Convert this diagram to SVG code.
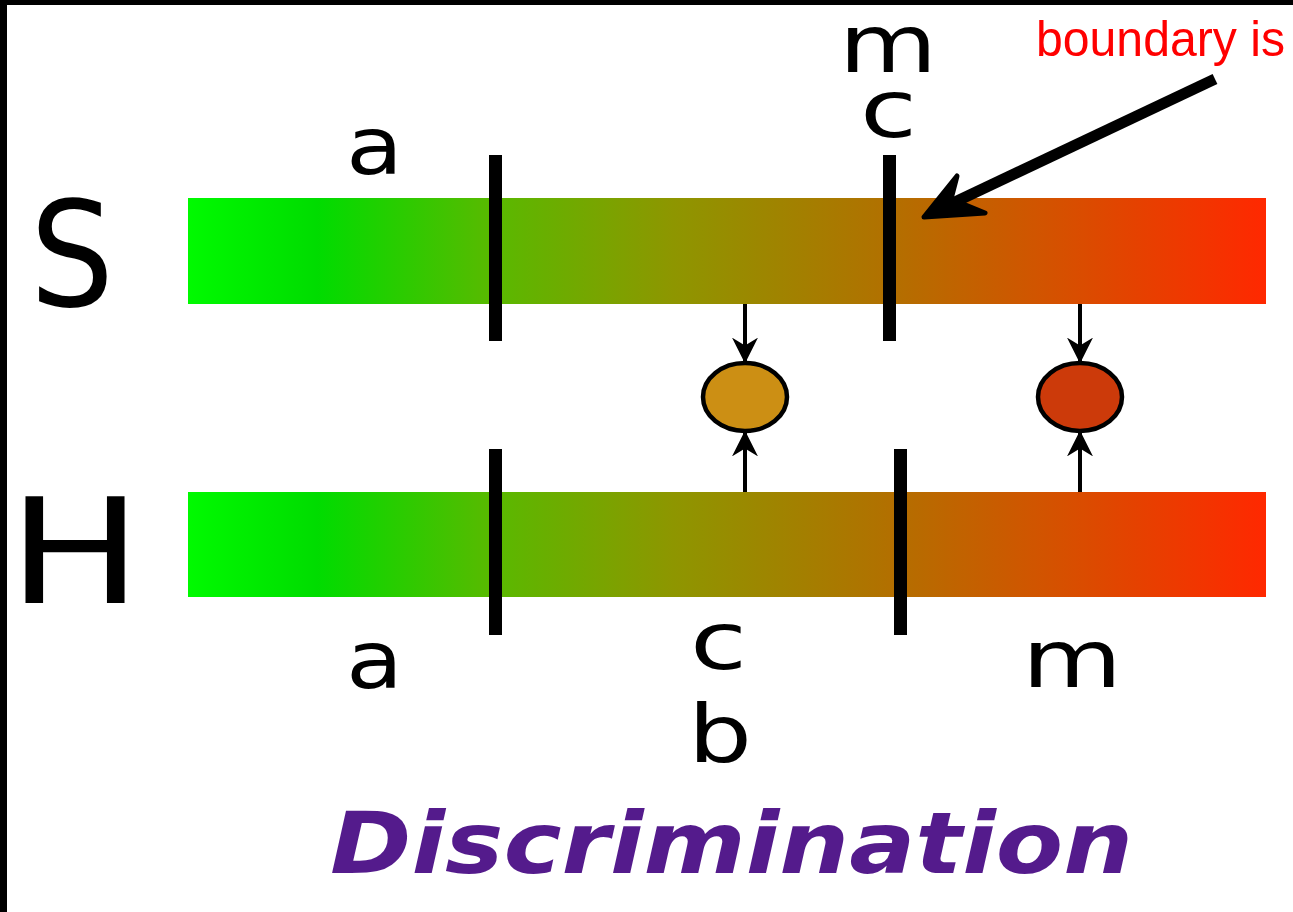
<svg xmlns="http://www.w3.org/2000/svg" width="1293" height="912" viewBox="0 0 1293 912">
  <defs>
    <linearGradient id="bar" x1="0" y1="0" x2="1" y2="0">
      <stop offset="0" stop-color="#00fa00"/>
      <stop offset="0.12" stop-color="#00dc00"/>
      <stop offset="0.28" stop-color="#58ba00"/>
      <stop offset="0.45" stop-color="#8e9600"/>
      <stop offset="0.64" stop-color="#b07200"/>
      <stop offset="0.82" stop-color="#d84e00"/>
      <stop offset="1" stop-color="#ff2800"/>
    </linearGradient>
    <marker id="ah" viewBox="0 0 10 10" refX="9" refY="5" markerWidth="6.5" markerHeight="6.5" orient="auto" markerUnits="strokeWidth">
      <path d="M0,0 L10,5 L0,10 L3,5 Z" fill="#000"/>
    </marker>
  </defs>
  <style>
    .lbl { font-family: "DejaVu Sans", sans-serif; fill: #000; font-size: 80px; }
    .tick { fill: #000; }
    .conn { stroke: #000; stroke-width: 4; fill: none; marker-end: url(#ah); }
    .node { stroke: #000; stroke-width: 4.5; }
  </style>
  <rect x="0" y="0" width="1293" height="912" fill="#fff"/>
  <rect x="0" y="0" width="1293" height="5" fill="#000"/>
  <rect x="0" y="0" width="7" height="912" fill="#000"/>

  <g id="S-row">
    <text class="lbl" x="30" y="306" style="font-size:146px" textLength="84" lengthAdjust="spacingAndGlyphs">S</text>
    <rect x="188" y="198" width="1078" height="106" fill="url(#bar)"/>
    <rect class="tick" x="489" y="155" width="13" height="186"/>
    <rect class="tick" x="883" y="155" width="13" height="186"/>
    <text class="lbl" x="346" y="174" textLength="57" lengthAdjust="spacingAndGlyphs">a</text>
    <text class="lbl" x="839" y="72" textLength="98" lengthAdjust="spacingAndGlyphs">m</text>
    <text class="lbl" x="860" y="137" textLength="57" lengthAdjust="spacingAndGlyphs">c</text>
  </g>

  <g id="H-row">
    <text class="lbl" x="8" y="603" style="font-size:146px" textLength="134" lengthAdjust="spacingAndGlyphs">H</text>
    <rect x="188" y="492" width="1078" height="105" fill="url(#bar)"/>
    <rect class="tick" x="489" y="449" width="13" height="186"/>
    <rect class="tick" x="894" y="449" width="13" height="186"/>
    <text class="lbl" x="346" y="688" textLength="57" lengthAdjust="spacingAndGlyphs">a</text>
    <text class="lbl" x="690" y="669" textLength="57" lengthAdjust="spacingAndGlyphs">c</text>
    <text class="lbl" x="688" y="762" textLength="64" lengthAdjust="spacingAndGlyphs">b</text>
    <text class="lbl" x="1022" y="687" textLength="100" lengthAdjust="spacingAndGlyphs">m</text>
  </g>

  <g id="node-mid">
    <ellipse class="node" cx="745" cy="397" rx="42" ry="34" fill="#cc8f14"/>
  </g>
  <g id="node-right">
    <ellipse class="node" cx="1080" cy="397" rx="42" ry="34" fill="#cc3a0a"/>
  </g>

  <g id="connectors">
    <line class="conn" x1="745" y1="304" x2="745" y2="361"/>
    <line class="conn" x1="745" y1="492" x2="745" y2="433"/>
    <line class="conn" x1="1080" y1="304" x2="1080" y2="361"/>
    <line class="conn" x1="1080" y1="492" x2="1080" y2="433"/>
    <line x1="1215" y1="79" x2="955" y2="202" stroke="#000" stroke-width="11"/>
    <path d="M924,217 L957,176 L951,199 L985,213 Z" fill="#000" stroke="#000" stroke-width="5" stroke-linejoin="round"/>
  </g>

  <g id="note">
    <text x="1285" y="56" font-family="Liberation Sans, sans-serif" font-size="50" fill="#ff0000" text-anchor="end" textLength="249" lengthAdjust="spacingAndGlyphs">boundary is</text>
  </g>

  <g id="title">
    <text x="330" y="873" font-family="DejaVu Sans, sans-serif" font-weight="bold" font-style="italic" font-size="86" fill="#541b8c" textLength="803" lengthAdjust="spacingAndGlyphs">Discrimination</text>
  </g>
</svg>
